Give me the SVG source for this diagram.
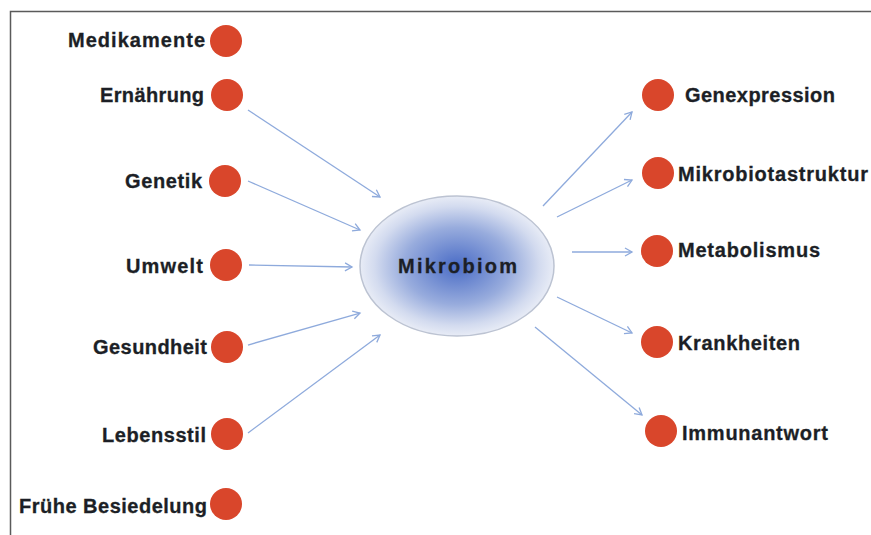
<svg xmlns="http://www.w3.org/2000/svg" width="871" height="535" viewBox="0 0 871 535">
<style>
.lbl{font-family:"Liberation Sans",Arial,sans-serif;font-weight:bold;font-size:20px;fill:#1c1f26;stroke:#1c1f26;stroke-width:0.3}
.dot{fill:#d9462b}
.con{stroke:#8eaadc;stroke-width:1.3;fill:none;marker-end:url(#ah)}
</style>
<defs>
<marker id="ah" markerWidth="10" markerHeight="10" refX="8" refY="5" orient="auto" markerUnits="userSpaceOnUse">
<path d="M1,1 L8,5 L1,9" fill="none" stroke="#8eaadc" stroke-width="1.3"/>
</marker>
<radialGradient id="g" cx="0.5" cy="0.5" r="0.5">
<stop offset="0" stop-color="#4a6cc6"/>
<stop offset="0.55" stop-color="#98acdd"/>
<stop offset="0.85" stop-color="#d3dbef"/>
<stop offset="1" stop-color="#e8ecf6"/>
</radialGradient>
</defs>
<rect width="871" height="535" fill="#ffffff"/>
<path d="M10.5,535 L10.5,11.5 L871,11.5" fill="none" stroke="#5a5a5a" stroke-width="1.5"/>

<g id="connectors">
<line class="con" x1="248" y1="110" x2="380" y2="197"/>
<line class="con" x1="248" y1="181" x2="360" y2="230"/>
<line class="con" x1="249" y1="265" x2="352" y2="267"/>
<line class="con" x1="248" y1="345" x2="360" y2="313"/>
<line class="con" x1="248" y1="433" x2="380" y2="335"/>
<line class="con" x1="543" y1="206" x2="632" y2="112"/>
<line class="con" x1="557" y1="217" x2="632" y2="180"/>
<line class="con" x1="572" y1="252" x2="632" y2="252"/>
<line class="con" x1="557" y1="297" x2="632" y2="333"/>
<line class="con" x1="535" y1="327" x2="642" y2="415"/>
</g>

<g id="mikrobiom">
<ellipse cx="457" cy="266" rx="97" ry="70" fill="url(#g)" stroke="#bcc3d2" stroke-width="1.5"/>
<text class="lbl" x="398" y="273" textLength="119" lengthAdjust="spacing">Mikrobiom</text>
</g>

<g id="medikamente"><circle class="dot" cx="226" cy="41" r="16"/><text class="lbl" x="68" y="47" textLength="137" lengthAdjust="spacing">Medikamente</text></g>
<g id="ernaehrung"><circle class="dot" cx="227" cy="95" r="16"/><text class="lbl" x="100" y="102" textLength="104" lengthAdjust="spacing">Ernährung</text></g>
<g id="genetik"><circle class="dot" cx="225" cy="181" r="16"/><text class="lbl" x="125" y="188" textLength="77" lengthAdjust="spacing">Genetik</text></g>
<g id="umwelt"><circle class="dot" cx="226" cy="265" r="16"/><text class="lbl" x="126" y="273" textLength="77" lengthAdjust="spacing">Umwelt</text></g>
<g id="gesundheit"><circle class="dot" cx="227" cy="347" r="16"/><text class="lbl" x="93" y="354" textLength="114" lengthAdjust="spacing">Gesundheit</text></g>
<g id="lebensstil"><circle class="dot" cx="227" cy="434" r="16"/><text class="lbl" x="102" y="442" textLength="104" lengthAdjust="spacing">Lebensstil</text></g>
<g id="fruehe-besiedelung"><circle class="dot" cx="226" cy="504" r="16"/><text class="lbl" x="19" y="513" textLength="188" lengthAdjust="spacing">Frühe Besiedelung</text></g>

<g id="genexpression"><circle class="dot" cx="658" cy="95" r="16"/><text class="lbl" x="685" y="102" textLength="150" lengthAdjust="spacing">Genexpression</text></g>
<g id="mikrobiotastruktur"><circle class="dot" cx="658" cy="173" r="16"/><text class="lbl" x="678" y="181" textLength="190" lengthAdjust="spacing">Mikrobiotastruktur</text></g>
<g id="metabolismus"><circle class="dot" cx="657" cy="251" r="16"/><text class="lbl" x="678" y="257" textLength="142" lengthAdjust="spacing">Metabolismus</text></g>
<g id="krankheiten"><circle class="dot" cx="657" cy="342" r="16"/><text class="lbl" x="678" y="350" textLength="122" lengthAdjust="spacing">Krankheiten</text></g>
<g id="immunantwort"><circle class="dot" cx="661" cy="431" r="16"/><text class="lbl" x="682" y="440" textLength="146" lengthAdjust="spacing">Immunantwort</text></g>
</svg>
